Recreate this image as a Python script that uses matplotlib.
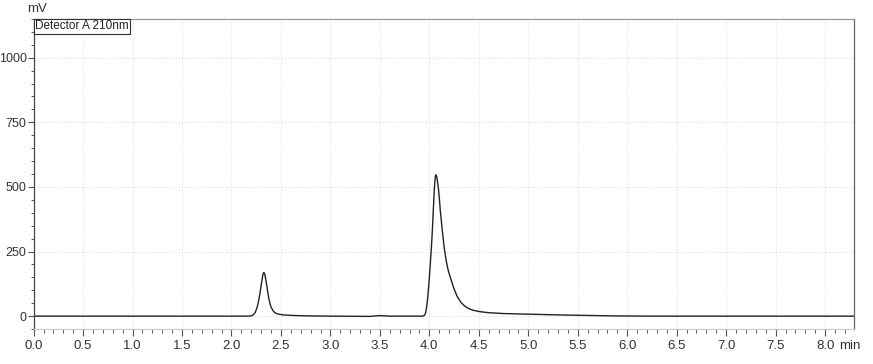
import numpy as np
import matplotlib.pyplot as plt
from matplotlib.ticker import MultipleLocator

plt.rcParams['font.family'] = ['Liberation Sans', 'DejaVu Sans']

# retention time (min) and detector signal (mV)
time_min = [0.00, 2.15, 2.20, 2.22, 2.24, 2.26, 2.28, 2.30, 2.31, 2.32, 2.326, 2.335,
            2.35, 2.36, 2.37, 2.38, 2.39, 2.40, 2.42, 2.44, 2.47, 2.52, 2.60, 2.75,
            3.00, 3.40, 3.50, 3.60, 3.90, 3.93, 3.95, 3.96, 3.97, 3.98, 3.99, 4.00,
            4.01, 4.02, 4.03, 4.04, 4.05, 4.06, 4.065, 4.075, 4.09, 4.10, 4.11, 4.13,
            4.15, 4.17, 4.19, 4.22, 4.25, 4.28, 4.32, 4.36, 4.40, 4.44, 4.50, 4.56,
            4.61, 4.75, 4.95, 5.12, 5.40, 5.85, 6.20, 8.29]
signal_mv = [0, 0, 1, 5, 14, 35, 70, 118, 145, 164, 169, 165,
             135, 110, 85, 64, 47, 35, 21, 13, 8, 5, 3, 1,
             0, -1, 2, 0, 0, 0, 3, 10, 28, 60, 101, 150,
             205, 262, 330, 411, 490, 540, 547, 540, 500, 460, 411, 335,
             265, 215, 178, 140, 105, 77, 53, 38, 29, 23, 18, 15,
             13, 10, 8, 6.5, 4, 1, 0, 0]

fig = plt.figure(figsize=(8.73, 3.64), dpi=100)
ax = fig.add_axes([0.0385, 0.096, 0.9395, 0.852])

ax.plot(time_min, signal_mv, color='#222222', lw=1.0)

ax.set_xlim(0, 8.29)
ax.set_ylim(-50, 1150)

ax.xaxis.set_minor_locator(MultipleLocator(0.1))
ax.yaxis.set_minor_locator(MultipleLocator(50))
xt = np.arange(0, 8.01, 0.5)
ax.set_xticks(xt)
ax.set_xticklabels(['%.1f' % v for v in xt])
ax.set_yticks([0, 250, 500, 750, 1000])

ax.tick_params(axis='x', which='major', direction='out', length=5, width=0.8,
               color='#555555', labelsize=9.5, pad=3, labelcolor='#333333')
ax.tick_params(axis='x', which='minor', direction='out', length=3, width=0.7, color='#555555')
ax.tick_params(axis='y', which='major', direction='out', length=4, width=0.8,
               color='#555555', labelsize=9, pad=1, labelcolor='#333333')
ax.tick_params(axis='y', which='minor', direction='out', length=2.5, width=0.7, color='#555555')

ax.grid(True, which='major', linestyle=':', color='#dddddd', lw=0.8)

ax.spines['left'].set_color('#444444')
ax.spines['right'].set_color('#666666')
ax.spines['top'].set_color('#999999')
ax.spines['bottom'].set_color('#cccccc')
for s in ax.spines.values():
    s.set_linewidth(0.9)

fig.text(27 / 873, 1 - 9 / 364, 'mV', fontsize=9.5, color='#333333', va='center', ha='left')
fig.text(839 / 873, 1 - 346 / 364, 'min', fontsize=9.5, color='#333333', va='center', ha='left')

ax.text(0.002, 0.995, 'Detector A 210nm', transform=ax.transAxes, fontsize=8.5,
        va='top', ha='left', color='#222222',
        bbox=dict(boxstyle='square,pad=0.12', facecolor='white', edgecolor='#333333', lw=0.8))

plt.savefig('out.png', dpi=100)
